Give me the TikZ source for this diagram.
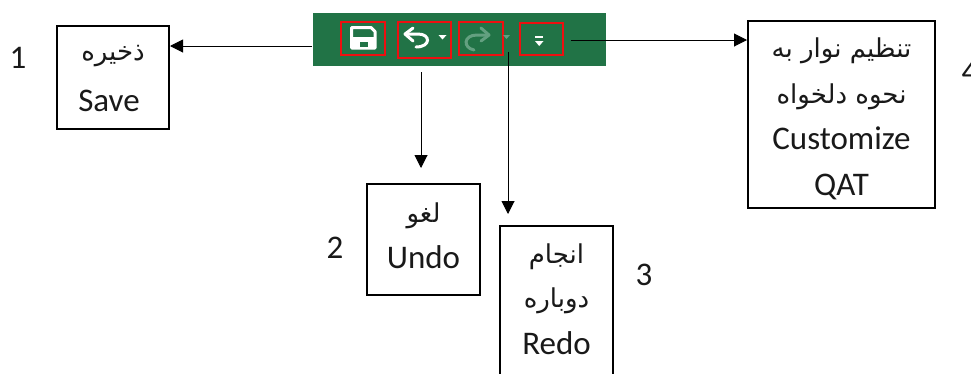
\documentclass[tikz,border=0pt]{standalone}
\usepackage{fontspec}
\setmainfont{Carlito}
\newfontfamily\arabicfont[Script=Arabic]{DejaVu Sans}
\TeXXeTstate=1
\usetikzlibrary{arrows.meta}
\newcommand{\fa}[1]{{\arabicfont\fontsize{26}{46}\selectfont\beginR #1\endR}}
\definecolor{xlgreen}{HTML}{217346}
\definecolor{fadeicon}{HTML}{63A080}
\definecolor{redbox}{HTML}{EE1010}
\tikzset{
  x=1pt,y=-1pt,
  infobox/.style={draw=black,line width=2pt,fill=white,inner sep=0pt,align=center,anchor=north west,
    font=\fontsize{33}{46}\selectfont,text=black!90},
  btnbox/.style={draw=redbox,line width=2pt,inner sep=0pt,anchor=north west},
  arr/.style={draw=black,line width=1pt,-{Triangle[length=13pt,width=13pt]}},
  numlabel/.style={font=\fontsize{33}{36}\selectfont,text=black!90,inner sep=0pt},
  icon/.style={draw=white,line width=2.6pt},
}
\begin{document}
\begin{tikzpicture}
\useasboundingbox (0,0) rectangle (971,373);
\clip (0,0) rectangle (971,373);
\fill[white] (0,0) rectangle (971,373);
% toolbar
\node[fill=xlgreen,minimum width=293pt,minimum height=53pt,inner sep=0pt,anchor=north west] (bar) at (313,13) {};
\node[btnbox,minimum width=44pt,minimum height=33pt] (savebtn) at (340,21) {};
\node[btnbox,minimum width=53pt,minimum height=36pt] (undobtn) at (397,21) {};
\node[btnbox,minimum width=44pt,minimum height=33pt] (redobtn) at (458,21) {};
\node[btnbox,minimum width=43pt,minimum height=32pt] (qatbtn) at (519,22) {};
% floppy icon
\draw[icon,line width=3pt,line join=round] (351.5,27.5) -- (371,27.5) -- (375,31.5) -- (375,48) -- (351.5,48) -- cycle;
\fill[white] (351.5,36.5) rectangle (375,48);
\fill[xlgreen] (359.5,42) rectangle (368,46.5);
% undo icon
\draw[icon,line width=3pt,line cap=round] (407,34) -- (418,34) .. controls (431,34) and (431,47) .. (416,47);
\draw[icon,line width=3pt,line cap=round,line join=round] (413,28) -- (405,34) -- (413,41);
\fill[white] (438.5,35) -- (446.5,35) -- (442.5,39.5) -- cycle;
% redo icon
\draw[icon,draw=fadeicon,line width=3pt,line cap=round] (486,35) -- (477,35) .. controls (463,35) and (463,48) .. (474,50);
\draw[icon,draw=fadeicon,line width=3pt,line cap=round,line join=round] (481,28) -- (489,35) -- (481,41);
\fill[fadeicon] (503,35) -- (510,35) -- (506.5,39) -- cycle;
% customize icon
\fill[white] (535,35.5) rectangle (543,37.5);
\fill[white] (535,41) -- (543.5,41) -- (539.2,46) -- cycle;
% boxes
\node[infobox,minimum width=112pt,minimum height=103pt,font=\fontsize{33}{51}\selectfont,text depth=7pt] (savebox) at (56,25) {\rule{0pt}{24pt}\fa{ذخیره}\\Save\hspace*{8pt}};
\node[infobox,minimum width=113pt,minimum height=111pt,text depth=8pt] (undobox) at (366,183) {\fa{لغو}\\Undo};
\node[infobox,minimum width=113pt,minimum height=151pt,font=\fontsize{33}{47}\selectfont,text depth=5pt] (redobox) at (499,225) {\fa{انجام}\\[-3pt]\fa{دوباره}\\Redo};
\node[infobox,minimum width=187pt,minimum height=187pt] (qatbox) at (747,20) {\rule{0pt}{28pt}\fa{تنظیم نوار به}\\\fa{نحوه دلخواه}\\Customize\\QAT};
% numbers
\node[numlabel] (n1) at (18,58) {1};
\node[numlabel] (n2) at (335,248) {2};
\node[numlabel] (n3) at (644,275) {3};
\node[numlabel] (n4) at (970,72) {4};
% connectors
\coordinate (savestart) at (312,46);
\coordinate (undostart) at (421,72);
\coordinate (redostart) at (508,52);
\coordinate (qatstart) at (571,40);
\draw[arr] (savestart) -- (savestart -| savebox.east);
\draw[arr,shorten >=15pt] (undostart) -- (undostart |- undobox.north);
\draw[arr,shorten >=11pt] (redostart) -- (redostart |- redobox.north);
\draw[arr] (qatstart) -- (qatstart -| qatbox.west);
\end{tikzpicture}
\end{document}
